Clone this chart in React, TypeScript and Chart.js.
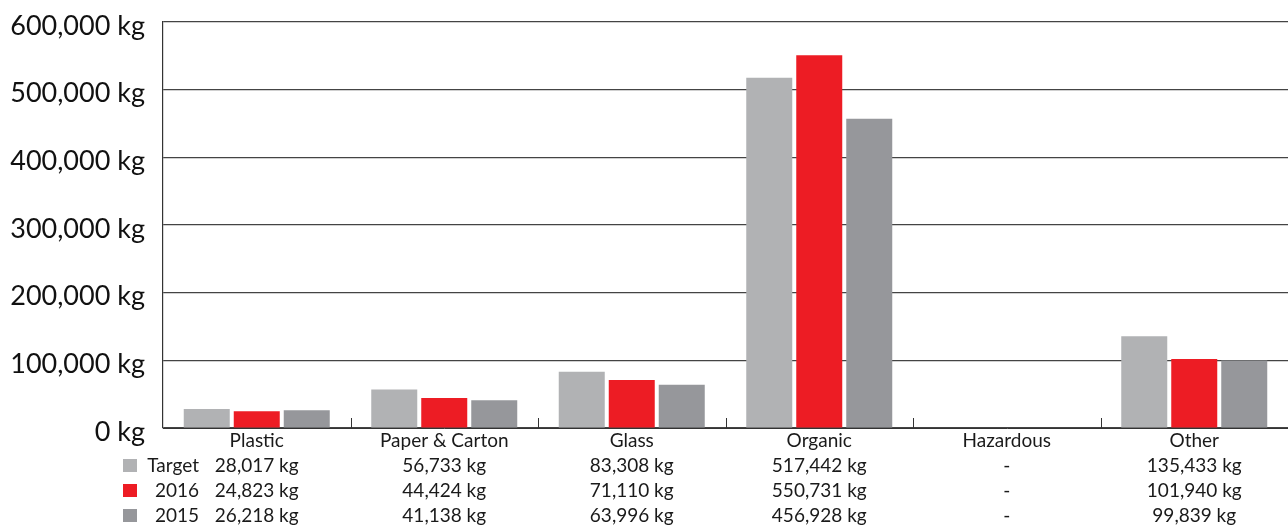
import React, { useEffect, useRef } from "react";
import { Chart, registerables } from "chart.js";

Chart.register(...registerables);

const categories = ["Plastic", "Paper & Carton", "Glass", "Organic", "Hazardous", "Other"];
const seriesNames = ["Target", "2016", "2015"];
const targetValues: (number | null)[] = [28017, 56733, 83308, 517442, null, 135433];
const values2016: (number | null)[] = [24823, 44424, 71110, 550731, null, 101940];
const values2015: (number | null)[] = [26218, 41138, 63996, 456928, null, 99839];
const yTickValues = [0, 100000, 200000, 300000, 400000, 500000, 600000];
const seriesColors = ["#b1b2b4", "#ed1c24", "#96979b"];

const FONT = "Lato";

const fmt = (v: number | null) => (v == null ? "-" : v.toLocaleString("en-US") + " kg");

const tablePlugin = {
  id: "tableRows",
  afterDraw(chart: any) {
    const ctx = chart.ctx;
    const xs = chart.scales.x;
    const area = chart.chartArea;
    ctx.save();
    ctx.strokeStyle = "#333";
    ctx.lineWidth = 1;
    for (let i = 1; i < categories.length; i++) {
      const x = Math.round((xs.getPixelForValue(i - 1) + xs.getPixelForValue(i)) / 2) + 0.5;
      ctx.beginPath();
      ctx.moveTo(x, area.bottom);
      ctx.lineTo(x, area.bottom - 10);
      ctx.stroke();
    }
    ctx.font = `19px ${FONT}`;
    ctx.textBaseline = "middle";
    ctx.textAlign = "right";
    for (let r = 0; r < 3; r++) {
      const y = area.bottom + 13 + 25 * (r + 1);
      ctx.fillStyle = seriesColors[r];
      ctx.fillRect(123, y - 7, 14, 13);
      ctx.fillStyle = "#1a1a1a";
      ctx.fillText(seriesNames[r], 199, y);
    }
    ctx.restore();
  },
};

export default function App() {
  const ref = useRef<HTMLCanvasElement | null>(null);
  useEffect(() => {
    document.body.style.margin = "0";
    const chart = new Chart(ref.current as HTMLCanvasElement, {
      type: "bar",
      data: {
        labels: categories,
        datasets: [
          { label: seriesNames[0], data: targetValues, backgroundColor: seriesColors[0] },
          { label: seriesNames[1], data: values2016, backgroundColor: seriesColors[1] },
          { label: seriesNames[2], data: values2015, backgroundColor: seriesColors[2] },
        ],
      },
      options: {
        responsive: false,
        animation: false,
        layout: { padding: { top: 22, left: 0, right: 0, bottom: 0 } },
        plugins: { legend: { display: false }, tooltip: { enabled: false } },
        datasets: { bar: { categoryPercentage: 0.8, barPercentage: 0.92 } },
        scales: {
          x: {
            grid: { display: false, drawTicks: false },
            border: { display: true, color: "#333", width: 1 },
            afterFit: (s: any) => {
              s.height = 98;
              s.paddingLeft = 0;
              s.paddingRight = 0;
            },
            ticks: {
              padding: 0,
              color: "#1a1a1a",
              font: { family: FONT, size: 19, lineHeight: "25px" },
              maxRotation: 0,
              autoSkip: false,
              callback: (_v: any, i: number) => [
                categories[i],
                fmt(targetValues[i]),
                fmt(values2016[i]),
                fmt(values2015[i]),
              ],
            },
          },
          y: {
            min: 0,
            max: 600000,
            afterBuildTicks: (s: any) => {
              s.ticks = yTickValues.map((v) => ({ value: v }));
            },
            afterFit: (s: any) => {
              s.width = 163;
              s.paddingTop = 0;
              s.paddingBottom = 0;
            },
            grid: { color: "#444", lineWidth: 1.2, drawTicks: false },
            border: { display: true, color: "#333", width: 1.2 },
            ticks: {
              padding: 18,
              labelOffset: 4,
              color: "#111",
              font: { family: FONT, size: 27 },
              callback: (v: any) => Number(v).toLocaleString("en-US") + " kg",
            },
          },
        },
      },
      plugins: [tablePlugin],
    });
    return () => chart.destroy();
  }, []);
  return (
    <div style={{ position: "absolute", left: 0, top: 0, width: 1288, height: 526 }}>
      <canvas ref={ref} width={1288} height={526} />
    </div>
  );
}
